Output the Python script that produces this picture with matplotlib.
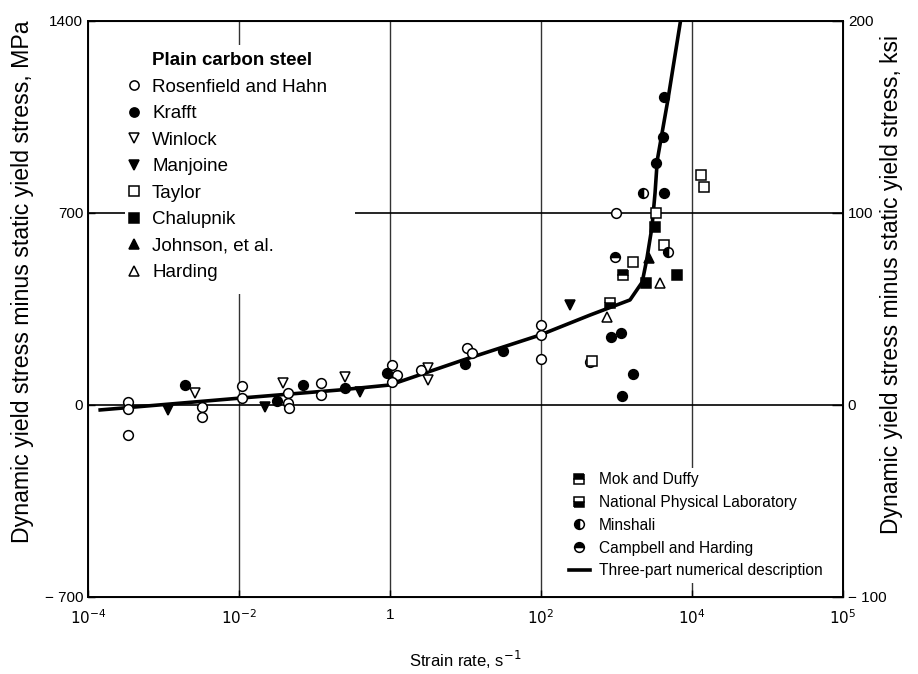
import matplotlib
matplotlib.use("Agg")
import matplotlib.pyplot as plt
from matplotlib.lines import Line2D
from matplotlib.patches import Rectangle

plt.rcParams['font.family'] = ['Liberation Sans', 'DejaVu Sans']

# ---- data (strain rate s^-1, stress MPa) ----
rosenfield_x = [3.4e-4, 3.4e-4, 3.4e-4, 3.2e-3, 3.2e-3, 0.011, 0.011, 0.044, 0.044, 0.046,
                0.122, 0.122, 1.06, 1.24, 1.06, 2.6, 10.5, 12.3, 100, 100, 100, 440, 990]
rosenfield_y = [11, -15, -109, -7, -44, 69, 26, 44, 7, -11,
                80, 36, 146, 109, 84, 128, 208, 190, 292, 255, 168, 157, 700]
krafft_x = [1.9e-3, 0.032, 0.071, 0.25, 0.91, 9.8, 31.6, 3300, 4250, 850, 1150, 1650, 1170, 4250, 4150]
krafft_y = [73, 15, 73, 62, 117, 149, 197, 882, 773, 248, 262, 113, 33, 1123, 977]
winlock_x = [2.6e-3, 0.038, 0.25, 3.2, 3.2]
winlock_y = [44, 80, 102, 135, 91]
manjoine_x = [1.15e-3, 0.022, 0.40, 240]
manjoine_y = [-18, -7, 47, 365]
taylor_x = [3300, 4250, 1650, 480, 13200, 14500]
taylor_y = [700, 583, 521, 160, 838, 795]
chalupnik_x = [3240, 2450, 6300]
chalupnik_y = [649, 445, 474]
johnson_x = [2700]
johnson_y = [536]
harding_x = [3800, 740]
harding_y = [445, 321]
mok_x = [1230]
mok_y = [474]
npl_x = [810]
npl_y = [372]
minshall_x = [2240, 4790]
minshall_y = [773, 558]
campbell_x = [955]
campbell_y = [540]

curve_x = [1.45e-4, 0.0102, 0.219, 1.0, 9.3, 97, 447, 1510, 2190, 2510, 2950, 3240, 3470, 4790, 7080]
curve_y = [-18, 25, 55, 73, 164, 255, 328, 383, 448, 529, 649, 773, 893, 1112, 1404]

xtick_vals = [1e-4, 1e-2, 1, 1e2, 1e4, 1e6]
xtick_labels = ['$10^{-4}$', '$10^{-2}$', '1', '$10^{2}$', '$10^{4}$', '$10^{5}$']
ytick_vals = [-700, 0, 700, 1400]
ytick_labels = ['\u2212 700', '0', '700', '1400']
ksi_ticks = [-100, 0, 100, 200]
ksi_labels = ['\u2212 100', '0', '100', '200']

fig = plt.figure(figsize=(9.18, 6.74), dpi=100)
ax = fig.add_axes([88/918, 1-597/674, (843-88)/918, (597-21)/674])
ax.set_xscale('log')
ax.set_xlim(1e-4, 1e6)
ax.set_ylim(-700, 1400)

# grid lines
for xv in [1e-2, 1, 1e2, 1e4]:
    ax.axvline(xv, color='#333333', lw=1.0, zorder=1)
for yv in [0, 700]:
    ax.axhline(yv, color='black', lw=1.2, zorder=1)

# white area behind the upper legend
ax.add_patch(Rectangle((0.049, 0.526), 0.305, 0.432, transform=ax.transAxes,
                       facecolor='white', edgecolor='none', zorder=1.5))

ms = 7
kw = dict(linestyle='none', markersize=ms, markeredgecolor='black', markeredgewidth=1.1, zorder=3)
title_h = Line2D([], [], linestyle='none', marker='none')
h = [title_h]
h.append(ax.plot(rosenfield_x, rosenfield_y, marker='o', markerfacecolor='white', label='Rosenfield and Hahn', **kw)[0])
h.append(ax.plot(krafft_x, krafft_y, marker='o', markerfacecolor='black', label='Krafft', **kw)[0])
h.append(ax.plot(winlock_x, winlock_y, marker='v', markerfacecolor='white', label='Winlock', **kw)[0])
h.append(ax.plot(manjoine_x, manjoine_y, marker='v', markerfacecolor='black', label='Manjoine', **kw)[0])
h.append(ax.plot(taylor_x, taylor_y, marker='s', markerfacecolor='white', label='Taylor', **kw)[0])
h.append(ax.plot(chalupnik_x, chalupnik_y, marker='s', markerfacecolor='black', label='Chalupnik', **kw)[0])
h.append(ax.plot(johnson_x, johnson_y, marker='^', markerfacecolor='black', label='Johnson, et al.', **kw)[0])
h.append(ax.plot(harding_x, harding_y, marker='^', markerfacecolor='white', label='Harding', **kw)[0])
labels1 = ['Plain carbon steel'] + [x.get_label() for x in h[1:]]

h2 = []
h2.append(ax.plot(mok_x, mok_y, marker='s', fillstyle='top', markerfacecolor='black',
                  markerfacecoloralt='white', label='Mok and Duffy', **kw)[0])
h2.append(ax.plot(npl_x, npl_y, marker='s', fillstyle='bottom', markerfacecolor='black',
                  markerfacecoloralt='white', label='National Physical Laboratory', **kw)[0])
h2.append(ax.plot(minshall_x, minshall_y, marker='o', fillstyle='left', markerfacecolor='black',
                  markerfacecoloralt='white', label='Minshali', **kw)[0])
h2.append(ax.plot(campbell_x, campbell_y, marker='o', fillstyle='top', markerfacecolor='black',
                  markerfacecoloralt='white', label='Campbell and Harding', **kw)[0])
h2.append(ax.plot(curve_x, curve_y, color='black', lw=2.6, zorder=2,
                  label='Three-part numerical description')[0])

ax.set_xticks(xtick_vals)
ax.set_xticklabels(xtick_labels)
ax.minorticks_off()
ax.set_yticks(ytick_vals)
ax.set_yticklabels(ytick_labels)
ax.tick_params(direction='in', length=5, labelsize=11, width=1)
ax.tick_params(axis='x', pad=8)
for s in ax.spines.values():
    s.set_linewidth(1.4)

ax2 = ax.twinx()
ax2.set_ylim(-100, 200)
ax2.set_yticks(ksi_ticks)
ax2.set_yticklabels(ksi_labels)
ax2.tick_params(direction='in', length=8, labelsize=11, width=1)

ax.set_xlabel('Strain rate, s$^{-1}$', fontsize=12, labelpad=16)
ax.set_ylabel('Dynamic yield stress minus static yield stress, MPa', fontsize=16.7, labelpad=6)
ax.yaxis.set_label_coords(-0.072, 0.547)
ax2.set_ylabel('Dynamic yield stress minus static yield stress, ksi', fontsize=16.5, labelpad=2)
ax2.yaxis.set_label_coords(1.049, 0.543)

leg1 = ax.legend(handles=h, labels=labels1, loc='upper left', bbox_to_anchor=(0.034, 0.972),
                 fontsize=13.5, frameon=False,
                 handlelength=0.6, handletextpad=0.65, labelspacing=0.5, borderpad=0.3,
                 markerscale=0.95)
leg1.get_texts()[0].set_fontweight('bold')
leg1.set_zorder(5)
ax.add_artist(leg1)
leg2 = ax.legend(handles=h2, loc='upper left', bbox_to_anchor=(0.621, 0.238),
                 fontsize=11.2, frameon=True, framealpha=1, facecolor='white', edgecolor='none',
                 handlelength=1.3, handletextpad=0.6, labelspacing=0.5, borderpad=0.3)
leg2.set_zorder(5)

fig.savefig('out.png', dpi=100)
